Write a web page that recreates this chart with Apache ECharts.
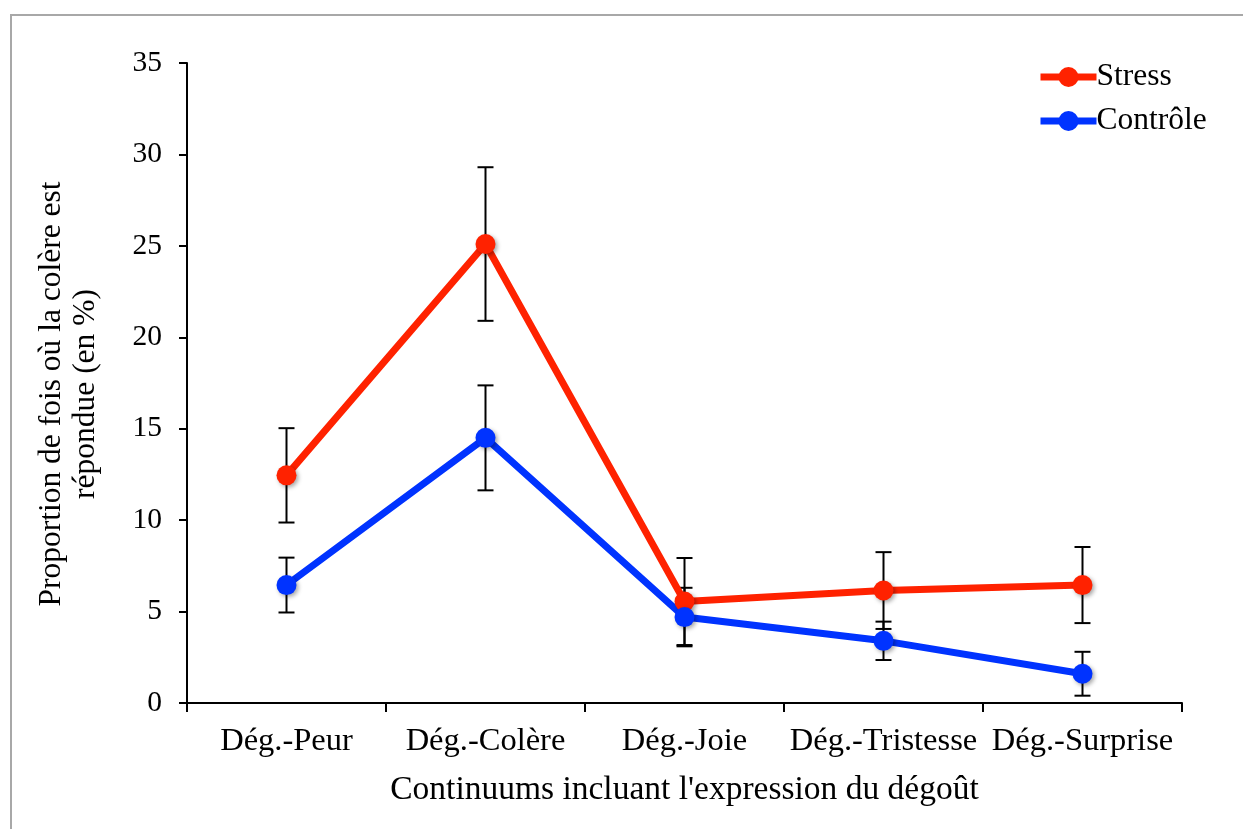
<!DOCTYPE html>
<html>
<head>
<meta charset="utf-8">
<script src="https://cdn.jsdelivr.net/npm/echarts@6/dist/echarts.min.js"></script>
<style>html,body{margin:0;padding:0;background:#fff;}#c{width:1243px;height:829px;}</style>
</head>
<body>
<div id="c"></div>
<script>
const categories = ['Dég.-Peur', 'Dég.-Colère', 'Dég.-Joie', 'Dég.-Tristesse', 'Dég.-Surprise'];
const stress = [12.45, 25.1, 5.55, 6.15, 6.45];
const stressErr = [2.58, 4.2, 2.38, 2.1, 2.08];
const controle = [6.45, 14.5, 4.7, 3.4, 1.6];
const controleErr = [1.5, 2.87, 1.6, 1.05, 1.2];
const yTicks = [0, 5, 10, 15, 20, 25, 30, 35];

const FONT = "'Liberation Serif', 'Times New Roman', serif";
const chart = echarts.init(document.getElementById('c'));

function errData(vals, errs) {
  return vals.map((v, i) => [i, v - errs[i], v + errs[i]]);
}
function renderErr(params, api) {
  const x = api.value(0);
  const lo = api.coord([x, api.value(1)]);
  const hi = api.coord([x, api.value(2)]);
  const hw = 8;
  const st = { stroke: '#000', lineWidth: 2 };
  return {
    type: 'group',
    children: [
      { type: 'line', shape: { x1: lo[0], y1: lo[1], x2: hi[0], y2: hi[1] }, style: st },
      { type: 'line', shape: { x1: lo[0] - hw, y1: lo[1], x2: lo[0] + hw, y2: lo[1] }, style: st },
      { type: 'line', shape: { x1: hi[0] - hw, y1: hi[1], x2: hi[0] + hw, y2: hi[1] }, style: st }
    ]
  };
}

const shadow = { shadowBlur: 4, shadowColor: 'rgba(0,0,0,0.35)', shadowOffsetX: 2, shadowOffsetY: 2 };

chart.setOption({
  animation: false,
  backgroundColor: '#fff',
  textStyle: { fontFamily: FONT },
  graphic: [{
    type: 'rect', shape: { x: 11, y: 15, width: 1250, height: 840 },
    style: { fill: 'none', stroke: '#a8a8a8', lineWidth: 2 }, silent: true, z: -1
  }],
  grid: { left: 187, top: 63, right: 61, bottom: 126 },
  legend: {
    left: 1037, top: 61, padding: 0, orient: 'vertical', itemWidth: 56, itemHeight: 25, itemGap: 12,
    lineStyle: { width: 7 },
    textStyle: { fontFamily: FONT, fontSize: 31.5, color: '#000', padding: [0, 0, 0, -5] },
    data: ['Stress', 'Contrôle']
  },
  xAxis: {
    type: 'category', data: categories, boundaryGap: true,
    name: "Continuums incluant l'expression du dégoût", nameLocation: 'middle', nameGap: 70,
    nameTextStyle: { fontFamily: FONT, fontSize: 33.5, color: '#000' },
    axisLine: { lineStyle: { color: '#000', width: 2 } },
    axisTick: { show: true, length: 9, lineStyle: { color: '#000', width: 2 } },
    axisLabel: { fontFamily: FONT, fontSize: 32.5, color: '#000', margin: 22, interval: 0, hideOverlap: false },
    splitLine: { show: false }
  },
  yAxis: {
    type: 'value', min: 0, max: 35, interval: 5,
    name: 'Proportion de fois où la colère est\nrépondue (en %)', nameLocation: 'middle', nameGap: 84,
    nameTextStyle: { fontFamily: FONT, fontSize: 31.5, color: '#000', lineHeight: 34, padding: [0, 22, 0, 0] },
    axisLine: { show: true, lineStyle: { color: '#000', width: 2 } },
    axisTick: { show: true, length: 8, lineStyle: { color: '#000', width: 2 } },
    axisLabel: { fontFamily: FONT, fontSize: 29.5, color: '#000', margin: 25,
      formatter: v => yTicks.includes(v) ? String(v) : '' },
    splitLine: { show: false }
  },
  series: [
    { type: 'custom', name: 'errS', renderItem: renderErr, data: errData(stress, stressErr), z: 1, encode: { x: 0, y: [1, 2] } },
    { type: 'custom', name: 'errC', renderItem: renderErr, data: errData(controle, controleErr), z: 1, encode: { x: 0, y: [1, 2] } },
    {
      type: 'line', name: 'Stress', data: stress, z: 3,
      symbol: 'circle', symbolSize: 20,
      lineStyle: { color: '#FF2200', width: 7 },
      itemStyle: Object.assign({ color: '#FF2200' }, shadow)
    },
    {
      type: 'line', name: 'Contrôle', data: controle, z: 3,
      symbol: 'circle', symbolSize: 20,
      lineStyle: { color: '#0033FF', width: 7 },
      itemStyle: Object.assign({ color: '#0033FF' }, shadow)
    }
  ]
});
</script>
</body>
</html>
